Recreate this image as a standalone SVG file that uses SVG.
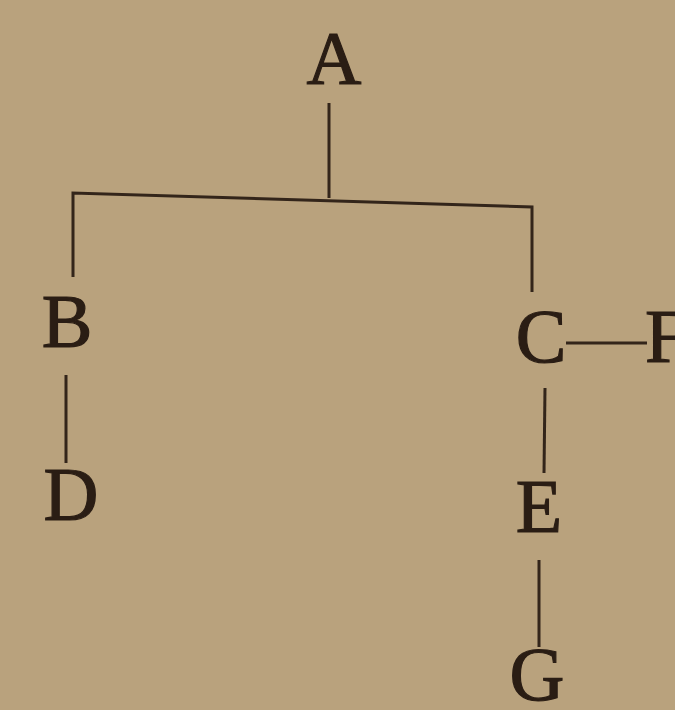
<svg xmlns="http://www.w3.org/2000/svg" width="675" height="710" viewBox="0 0 675 710">
<style>
.lbl{font-family:"Liberation Serif","DejaVu Serif",serif;font-size:76px;fill:#2a1d14;stroke:#2a1d14;stroke-width:1.2px;text-anchor:middle}
.edge{stroke:#33251a;stroke-width:3;fill:none;stroke-linecap:butt}
</style>
<rect x="0" y="0" width="675" height="710" fill="#b9a27d"/>
<g id="connectors">
<line class="edge" x1="329" y1="103" x2="329" y2="198"/>
<polyline class="edge" points="73,277 73,193 532,207 532,292"/>
<line class="edge" x1="66" y1="375" x2="66" y2="463"/>
<line class="edge" x1="566" y1="343" x2="647" y2="343"/>
<line class="edge" x1="545" y1="388" x2="544" y2="473"/>
<line class="edge" x1="539" y1="560" x2="539" y2="647"/>
</g>
<g id="node-A"><text class="lbl" x="334" y="84">A</text></g>
<g id="node-B"><text class="lbl" x="67" y="347">B</text></g>
<g id="node-D"><text class="lbl" x="71" y="520">D</text></g>
<g id="node-C"><text class="lbl" x="541" y="362">C</text></g>
<g id="node-F"><text class="lbl" x="645" y="362" style="text-anchor:start">F</text></g>
<g id="node-E"><text class="lbl" x="539" y="532">E</text></g>
<g id="node-G"><text class="lbl" x="537" y="700">G</text></g>
</svg>
